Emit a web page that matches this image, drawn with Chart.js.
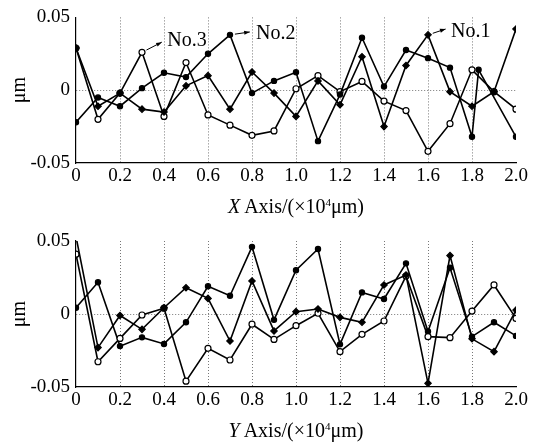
<!DOCTYPE html>
<html>
<head>
<meta charset="utf-8">
<script src="https://cdn.jsdelivr.net/npm/chart.js@4.4.1/dist/chart.umd.min.js"></script>
<style>
  body { margin: 0; background: #fff; width: 533px; height: 446px; position: relative; overflow: hidden;
         font-family: "Liberation Serif", "Times New Roman", serif; }
  .box { position: absolute; left: 0; width: 533px; }
  .axis-title { position: absolute; left: 76px; width: 440px; text-align: center; font-size: 20px; color: #000; line-height: 20px; }
  .axis-title sup { font-size: 11px; vertical-align: 7px; line-height: 0; }
</style>
</head>
<body>
<div class="box" style="top:0;height:220px"><canvas id="topChart"></canvas></div>
<div class="box" style="top:220px;height:226px"><canvas id="bottomChart"></canvas></div>
<div class="axis-title" style="top:196px"><i>X</i> Axis/(×10<sup>4</sup>μm)</div>
<div class="axis-title" style="top:420px"><i>Y</i> Axis/(×10<sup>4</sup>μm)</div>

<script>
// tick labels
const xTickLabels = ['0', '0.2', '0.4', '0.6', '0.8', '1.0', '1.2', '1.4', '1.6', '1.8', '2.0'];
const yTickLabels = ['-0.05', '0', '0.05'];

// sample positions (×10^4 µm)
const positions = [0, 0.1, 0.2, 0.3, 0.4, 0.5, 0.6, 0.7, 0.8, 0.9, 1.0,
                   1.1, 1.2, 1.3, 1.4, 1.5, 1.6, 1.7, 1.8, 1.9, 2.0];
const positionsNo2X = [0, 0.1, 0.2, 0.3, 0.4, 0.5, 0.6, 0.7, 0.8, 0.9, 1.0,
                       1.1, 1.2, 1.3, 1.4, 1.5, 1.6, 1.7, 1.8, 1.83, 2.0];

// X axis errors (µm)
const xNo1 = [0.029, -0.011, -0.002, -0.013, -0.015, 0.003, 0.010, -0.013, 0.0125, -0.002, -0.018,
              0.0064, -0.010, 0.023, -0.025, 0.017, 0.038, -0.001, -0.011, -0.001, 0.042];
const xNo2 = [-0.022, -0.005, -0.011, 0.0014, 0.012, 0.009, 0.025, 0.038, -0.002, 0.0064, 0.0123,
              -0.035, -0.003, 0.036, 0.0025, 0.0276, 0.022, 0.0155, -0.032, 0.014, -0.032];
const xNo3 = [0.029, -0.020, -0.002, 0.026, -0.018, 0.019, -0.017, -0.024, -0.031, -0.028, 0.001,
              0.010, -0.001, 0.006, -0.0075, -0.014, -0.042, -0.023, 0.014, -0.001, -0.013];

// Y axis errors (µm)
const yNo1 = [0.053, -0.023, -0.001, -0.0105, 0.0043, 0.018, 0.0107, -0.0185, 0.0226, -0.0116, 0.0016,
              0.0034, -0.0023, -0.0057, 0.0199, 0.0267, -0.0475, 0.040, -0.017, -0.0258, 0.0027];
const yNo2 = [0.041, -0.0327, -0.0167, -0.0007, 0.004, -0.046, -0.0235, -0.0315, -0.007, -0.0174, -0.008,
              0.0005, -0.0258, -0.0139, -0.0048, 0.026, -0.0155, -0.0162, 0.002, 0.0199, -0.003];
const yNo3 = [0.0043, 0.0217, -0.022, -0.016, -0.0205, -0.0057, 0.019, 0.0125, 0.046, -0.004, 0.030,
              0.0445, -0.0208, 0.0148, 0.0103, 0.0347, -0.012, 0.0317, -0.0155, -0.0057, -0.015];

const FONT = '"Liberation Serif", "Times New Roman", serif';

const toPoints = (xs, ys) => ys.map((v, i) => ({ x: xs[i], y: v }));

const styles = {
  no1: { pointStyle: 'rectRot', pointRadius: 3.2, backgroundColor: '#000' },
  no2: { pointStyle: 'circle', pointRadius: 2.6, backgroundColor: '#000' },
  no3: { pointStyle: 'circle', pointRadius: 3, backgroundColor: '#fff' }
};

const makeSet = (label, data, st) => ({
  label,
  data,
  borderColor: '#000',
  borderWidth: 1.6,
  pointBorderColor: '#000',
  pointBorderWidth: 1.2,
  pointBackgroundColor: st.backgroundColor,
  pointStyle: st.pointStyle,
  pointRadius: st.pointRadius,
  tension: 0
});

// arrows + labels "No.x"
const callouts = {
  id: 'callouts',
  afterDatasetsDraw(chart, args, opts) {
    const { ctx } = chart;
    const xs = chart.scales.x, ys = chart.scales.y;
    (opts.items || []).forEach(it => {
      const x0 = xs.getPixelForValue(it.from[0]), y0 = ys.getPixelForValue(it.from[1]);
      const x1 = xs.getPixelForValue(it.to[0]), y1 = ys.getPixelForValue(it.to[1]);
      const ang = Math.atan2(y1 - y0, x1 - x0);
      const sx = x0 + Math.cos(ang) * 5, sy = y0 + Math.sin(ang) * 5;
      ctx.save();
      ctx.strokeStyle = '#000';
      ctx.fillStyle = '#000';
      ctx.lineWidth = 1;
      ctx.beginPath();
      ctx.moveTo(sx, sy);
      ctx.lineTo(x1, y1);
      ctx.stroke();
      ctx.beginPath();
      ctx.moveTo(x1, y1);
      ctx.lineTo(x1 - 6 * Math.cos(ang - 0.35), y1 - 6 * Math.sin(ang - 0.35));
      ctx.lineTo(x1 - 6 * Math.cos(ang + 0.35), y1 - 6 * Math.sin(ang + 0.35));
      ctx.closePath();
      ctx.fill();
      ctx.font = '20px ' + FONT;
      ctx.textAlign = 'left';
      ctx.textBaseline = 'middle';
      ctx.fillText(it.text, xs.getPixelForValue(it.at[0]), ys.getPixelForValue(it.at[1]));
      ctx.restore();
    });
  }
};

const makeOptions = (padTop, axisHeight, items) => ({
  responsive: true,
  maintainAspectRatio: false,
  animation: false,
  layout: { padding: { top: padTop, right: 17, left: 0, bottom: 0 } },
  plugins: { legend: { display: false }, tooltip: { enabled: false }, callouts: { items } },
  scales: {
    x: {
      type: 'linear',
      min: 0,
      max: 2,
      afterFit: s => { s.height = axisHeight; },
      afterBuildTicks: s => { s.ticks = xTickLabels.map(t => ({ value: parseFloat(t) })); },
      ticks: {
        padding: 2,
        color: '#000',
        font: { family: FONT, size: 19 },
        maxRotation: 0,
        autoSkip: false,
        callback: (v, i) => xTickLabels[i]
      },
      grid: {
        drawTicks: false,
        lineWidth: 1,
        color: c => (c.tick && c.tick.value > 0.01 && c.tick.value < 1.99) ? '#777' : 'rgba(0,0,0,0)'
      },
      border: { display: true, color: '#000', width: 1.2, dash: [1, 2] }
    },
    y: {
      min: -0.05,
      max: 0.05,
      afterFit: s => { s.width = 76; },
      afterBuildTicks: s => { s.ticks = yTickLabels.map(t => ({ value: parseFloat(t) })); },
      ticks: {
        padding: 6,
        color: '#000',
        font: { family: FONT, size: 19 },
        callback: (v, i) => yTickLabels[i]
      },
      grid: {
        drawTicks: false,
        lineWidth: 1,
        color: c => (c.tick && Math.abs(c.tick.value) < 1e-9) ? '#777' : 'rgba(0,0,0,0)'
      },
      border: { display: true, color: '#000', width: 1.2, dash: [1, 2] },
      title: { display: true, text: 'μm', color: '#000', font: { family: FONT, size: 20 }, padding: { top: 8, bottom: 0 } }
    }
  }
});

new Chart(document.getElementById('topChart'), {
  type: 'line',
  data: {
    datasets: [
      makeSet('No.1', toPoints(positions, xNo1), styles.no1),
      makeSet('No.2', toPoints(positionsNo2X, xNo2), styles.no2),
      makeSet('No.3', toPoints(positions, xNo3), styles.no3)
    ]
  },
  options: makeOptions(17, 57, [
    { text: 'No.3', from: [0.3, 0.026], to: [0.39, 0.033], at: [0.415, 0.034] },
    { text: 'No.2', from: [0.7, 0.038], to: [0.79, 0.040], at: [0.818, 0.039] },
    { text: 'No.1', from: [1.6, 0.038], to: [1.68, 0.042], at: [1.705, 0.040] }
  ]),
  plugins: [callouts]
});

new Chart(document.getElementById('bottomChart'), {
  type: 'line',
  data: {
    datasets: [
      makeSet('No.1', toPoints(positions, yNo1), styles.no1),
      makeSet('No.2', toPoints(positions, yNo2), styles.no3),
      makeSet('No.3', toPoints(positions, yNo3), styles.no2)
    ]
  },
  options: makeOptions(21, 59, []),
  plugins: [callouts]
});
</script>
</body>
</html>
